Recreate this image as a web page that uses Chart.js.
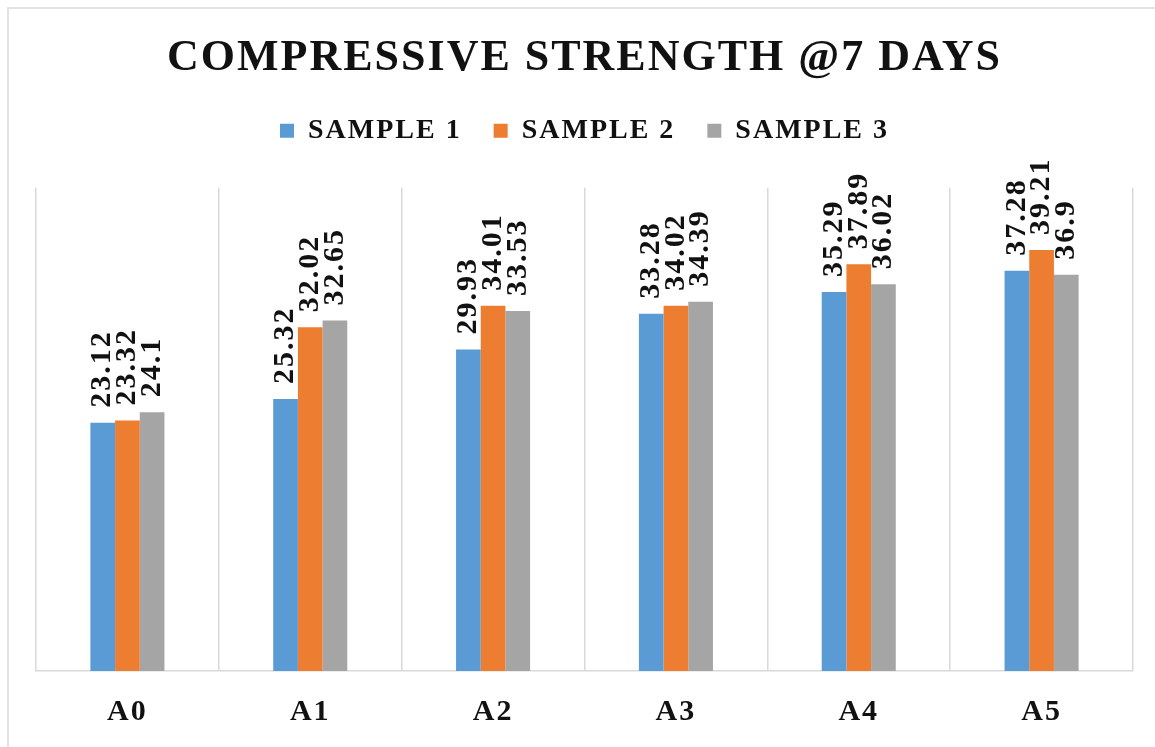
<!DOCTYPE html>
<html>
<head>
<meta charset="utf-8">
<script src="https://cdn.jsdelivr.net/npm/chart.js@4/dist/chart.umd.min.js"></script>
<style>
	html, body { margin: 0; padding: 0; background: #fff; }
	#wrap { position: relative; width: 1155px; height: 747px; overflow: hidden; }
	#frame { position: absolute; left: 7px; top: 7px; width: 1200px; height: 800px;
		border-top: 2px solid #e2e2e2; border-left: 2px solid #e2e2e2; }
	#chart { position: absolute; left: 0; top: 0; }
</style>
</head>
<body>
<div id="wrap">
	<div id="frame"></div>
	<canvas id="chart" width="1155" height="747"></canvas>
</div>
<script>
const categories = ['A0', 'A1', 'A2', 'A3', 'A4', 'A5'];
const seriesNames = ['SAMPLE 1', 'SAMPLE 2', 'SAMPLE 3'];
const sample1 = [23.12, 25.32, 29.93, 33.28, 35.29, 37.28];
const sample2 = [23.32, 32.02, 34.01, 34.02, 37.89, 39.21];
const sample3 = [24.1, 32.65, 33.53, 34.39, 36.02, 36.9];
const colors = ['#5b9bd5', '#ed7d31', '#a5a5a5'];

const serif = "'Liberation Serif', 'Times New Roman', serif";
const spacing = '2px';

// letter spacing for all canvas text (the source text is drawn wide)
const spacingPlugin = {
	id: 'spacing',
	beforeUpdate(chart) { chart.ctx.letterSpacing = spacing; },
	beforeDraw(chart) { chart.ctx.letterSpacing = spacing; }
};

// extra room under the legend
const legendGap = {
	id: 'legendGap',
	beforeInit(chart) {
		const fit = chart.legend.fit;
		chart.legend.fit = function () {
			fit.bind(chart.legend)();
			this.height += 33;
		};
	}
};

// rotated value labels above each bar
const valueLabels = {
	id: 'valueLabels',
	afterDatasetsDraw(chart) {
		const ctx = chart.ctx;
		chart.data.datasets.forEach(function (ds, i) {
			const meta = chart.getDatasetMeta(i);
			meta.data.forEach(function (bar, j) {
				ctx.save();
				ctx.letterSpacing = spacing;
				ctx.translate(bar.x, bar.y - 15);
				ctx.rotate(-Math.PI / 2);
				ctx.font = 'bold 30px ' + serif;
				ctx.textAlign = 'left';
				ctx.textBaseline = 'middle';
				ctx.fillStyle = '#111';
				ctx.fillText(String(ds.data[j]), 0, 0);
				ctx.restore();
			});
		});
	}
};

const values = [sample1, sample2, sample3];

new Chart(document.getElementById('chart'), {
	type: 'bar',
	data: {
		labels: categories,
		datasets: seriesNames.map(function (name, i) {
			return {
				label: name,
				data: values[i],
				backgroundColor: colors[i],
				borderWidth: 0,
				barPercentage: 1,
				categoryPercentage: 0.405
			};
		})
	},
	options: {
		responsive: false,
		animation: false,
		layout: { padding: { left: 36, right: 22, top: 0, bottom: -6 } },
		plugins: {
			title: {
				display: true,
				text: 'COMPRESSIVE STRENGTH @7 DAYS',
				color: '#111',
				font: { family: serif, size: 44, weight: 'bold', lineHeight: 1.2 },
				padding: { top: 32, bottom: 0 }
			},
			legend: {
				display: true,
				labels: {
					color: '#111',
					font: { family: serif, size: 28, weight: 'bold' },
					boxWidth: 14,
					boxHeight: 14,
					padding: 32
				}
			},
			tooltip: { enabled: false }
		},
		scales: {
			x: {
				grid: { display: true, color: '#d9d9d9', lineWidth: 1.5, drawTicks: false },
				border: { display: true, color: '#d9d9d9', width: 1.5 },
				ticks: {
					color: '#111',
					padding: 23,
					font: { family: serif, size: 30, weight: 'bold' }
				}
			},
			y: {
				display: false,
				min: 0,
				max: 45
			}
		}
	},
	plugins: [spacingPlugin, legendGap, valueLabels]
});
</script>
</body>
</html>
